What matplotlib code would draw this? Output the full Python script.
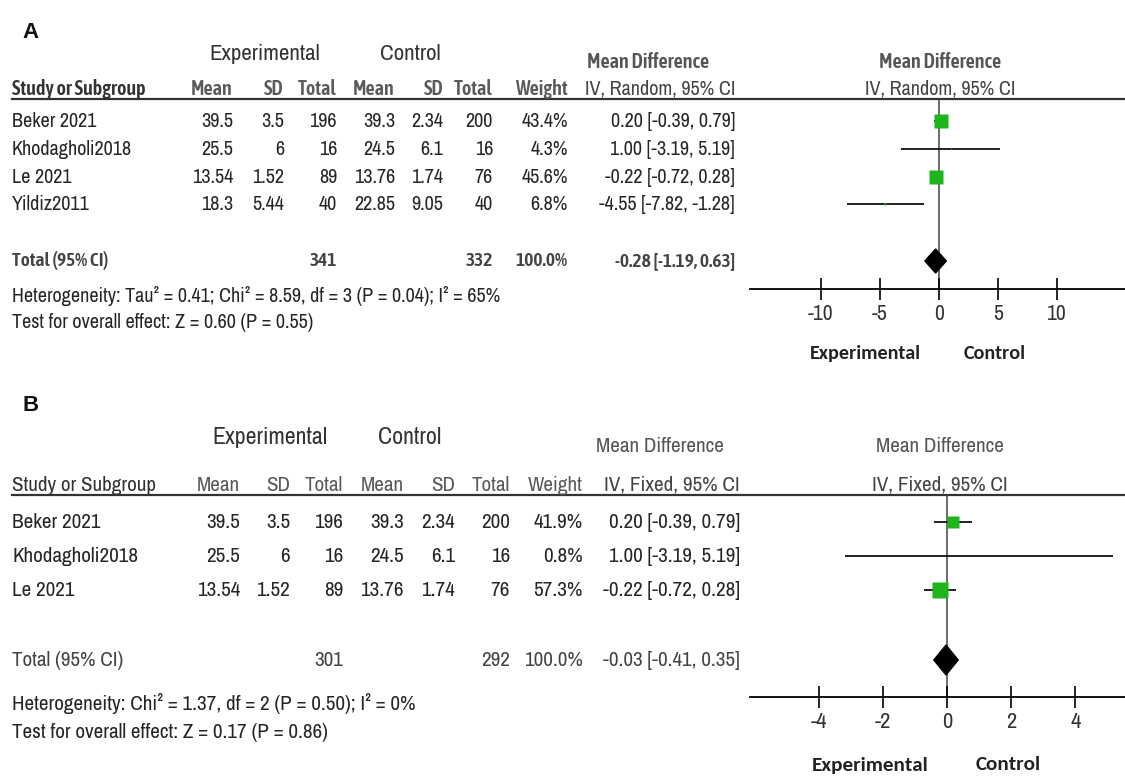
import matplotlib.pyplot as plt

# ---- data -------------------------------------------------------------
studies_a = ['Beker 2021', 'Khodagholi2018', 'Le 2021', 'Yildiz2011']
mean_e_a = [39.5, 25.5, 13.54, 18.3]
sd_e_a = [3.5, 6, 1.52, 5.44]
n_e_a = [196, 16, 89, 40]
mean_c_a = [39.3, 24.5, 13.76, 22.85]
sd_c_a = [2.34, 6.1, 1.74, 9.05]
n_c_a = [200, 16, 76, 40]
weight_a = [43.4, 4.3, 45.6, 6.8]
md_a = [0.20, 1.00, -0.22, -4.55]
lo_a = [-0.39, -3.19, -0.72, -7.82]
hi_a = [0.79, 5.19, 0.28, -1.28]
total_a = (341, 332, -0.28, -1.19, 0.63)
het_a = 'Heterogeneity: Tau² = 0.41; Chi² = 8.59, df = 3 (P = 0.04); I² = 65%'
test_a = 'Test for overall effect: Z = 0.60 (P = 0.55)'
ticks_a = [-10, -5, 0, 5, 10]

studies_b = ['Beker 2021', 'Khodagholi2018', 'Le 2021']
mean_e_b = [39.5, 25.5, 13.54]
sd_e_b = [3.5, 6, 1.52]
n_e_b = [196, 16, 89]
mean_c_b = [39.3, 24.5, 13.76]
sd_c_b = [2.34, 6.1, 1.74]
n_c_b = [200, 16, 76]
weight_b = [41.9, 0.8, 57.3]
md_b = [0.20, 1.00, -0.22]
lo_b = [-0.39, -3.19, -0.72]
hi_b = [0.79, 5.19, 0.28]
total_b = (301, 292, -0.03, -0.41, 0.35)
het_b = 'Heterogeneity: Chi² = 1.37, df = 2 (P = 0.50); I² = 0%'
test_b = 'Test for overall effect: Z = 0.17 (P = 0.86)'
ticks_b = [-4, -2, 0, 2, 4]

# ---- fonts -------------------------------------------------------------
NARROW = ['Archivo Narrow', 'DejaVu Sans']
BOLDN = ['Asap Condensed', 'DejaVu Sans']
plt.rcParams['font.family'] = NARROW
plt.rcParams['axes.unicode_minus'] = False

W, H = 1125, 779
fig = plt.figure(figsize=(W / 100, H / 100), dpi=100)
fig.patch.set_facecolor('white')
bg = fig.add_axes([0, 0, 1, 1])
bg.set_xlim(0, W)
bg.set_ylim(H, 0)
bg.axis('off')

GREEN = '#1eb41e'
TXT = '#262626'


def fmt_ci(m, l, h):
    return f'{m:.2f} [{l:.2f}, {h:.2f}]'


def panel(p):
    fs = p['fs']
    y_top, y_axis = p['line_y'], p['axis_y']
    cols = p['cols']
    hk = dict(family=BOLDN, fontweight='semibold', fontsize=fs) if p['hb'] else dict(family=NARROW, fontsize=fs)
    tk = dict(family=BOLDN, fontweight='semibold', fontsize=fs - 0.5) if p['tb'] else dict(family=NARROW, fontsize=fs)
    bg.text(22, p['letter_y'], p['letter'], fontsize=16, fontweight='bold',
            family='Liberation Sans', va='center', color='#111')
    bg.text(p['exp_x'], p['group_y'], 'Experimental', fontsize=fs + 2, ha='center', va='center', color='#333')
    bg.text(p['ctl_x'], p['group_y'], 'Control', fontsize=fs + 2, ha='center', va='center', color='#333')
    bg.text(p['md_x'], p['mdh_y'], 'Mean Difference', ha='center', va='center', color='#555', **hk)
    bg.text(p['zero_x'], p['mdh_y'], 'Mean Difference', ha='center', va='center', color='#555', **hk)
    bg.text(p['zero_x'], p['head_y'], p['model'], fontsize=fs, ha='center', va='center', color='#444')

    hy = p['head_y']
    bg.text(12, hy, 'Study or Subgroup', va='center', color='#333', **hk)
    for x, lab in zip(cols[:7], ['Mean', 'SD', 'Total', 'Mean', 'SD', 'Total', 'Weight']):
        bg.text(x, hy, lab, ha='right', va='center', color='#5a5a5a', **hk)
    bg.text(cols[7], hy, p['model'], fontsize=fs, ha='right', va='center', color='#444')
    bg.plot([12, W], [y_top, y_top], color='#333', lw=1.6)

    for i, name in enumerate(p['studies']):
        y = p['rows'][i]
        vals = [f"{p['me'][i]:g}", f"{p['se'][i]:g}", str(p['ne'][i]),
                f"{p['mc'][i]:g}", f"{p['sc'][i]:g}", str(p['nc'][i]),
                f"{p['w'][i]:.1f}%", fmt_ci(p['md'][i], p['lo'][i], p['hi'][i])]
        bg.text(12, y, name, fontsize=fs, va='center', color=TXT)
        for x, v in zip(cols, vals):
            bg.text(x, y, v, fontsize=fs, ha='right', va='center', color=TXT)

    ne, nc, tm, tl, th = p['total']
    ty = p['total_y']
    bg.text(12, ty, 'Total (95% CI)', va='center', color='#444', **tk)
    bg.text(cols[2], ty, str(ne), ha='right', va='center', color='#444', **tk)
    bg.text(cols[5], ty, str(nc), ha='right', va='center', color='#444', **tk)
    bg.text(cols[6], ty, '100.0%', ha='right', va='center', color='#444', **tk)
    bg.text(cols[7], ty, fmt_ci(tm, tl, th), ha='right', va='center', color='#444', **tk)
    bg.text(12, p['het_y'], p['het'], fontsize=fs, va='center', color=TXT)
    bg.text(12, p['test_y'], p['test'], fontsize=fs, va='center', color=TXT)

    # forest plot axes: x in data units, y in page pixels
    x0 = 750
    ax = fig.add_axes([x0 / W, 1 - y_axis / H, (W - x0) / W, (y_axis - y_top) / H])
    ax.set_xlim(*p['xlim'])
    ax.set_ylim(y_axis, y_top)
    ax.patch.set_alpha(0)
    for s in ['top', 'left', 'right']:
        ax.spines[s].set_visible(False)
    ax.spines['bottom'].set_linewidth(1.3)
    ax.set_yticks([])
    ax.set_xticks(p['ticks'])
    ax.tick_params(axis='x', direction='inout', length=16, width=1.2,
                   labelsize=fs + 1, pad=3, labelcolor='#333')
    ax.axvline(0, color='#444', lw=1.1, zorder=1)
    for i in range(len(p['studies'])):
        y = p['rows'][i]
        ax.hlines(y, p['lo'][i], p['hi'][i], color='#111', lw=1.3, zorder=2)
        ax.plot(p['md'][i], y, marker='s', color=GREEN, markersize=p['sq'] * p['w'][i] * 0.72,
                mec='none', zorder=3)
    d = p['dh']
    ax.fill([tl, tm, th, tm], [ty, ty - d, ty, ty + d], color='black', zorder=4)

    bg.text(p['lab_exp_x'], p['lab_y'], 'Experimental', fontsize=fs, ha='center', va='center',
            fontweight='bold', family='Carlito', color='#222')
    bg.text(p['lab_ctl_x'], p['lab_y'], 'Control', fontsize=fs, ha='center', va='center',
            fontweight='bold', family='Carlito', color='#222')


panel(dict(letter='A', letter_y=32, fs=14.5, hb=True, tb=True,
           exp_x=265, ctl_x=410, group_y=54, mdh_y=62, md_x=648, zero_x=940,
           head_y=89, line_y=99, axis_y=289,
           cols=[233, 284, 337, 395, 443, 493, 568, 735],
           rows=[121, 149, 177, 204], total_y=261, het_y=296, test_y=322,
           studies=studies_a, me=mean_e_a, se=sd_e_a, ne=n_e_a, mc=mean_c_a, sc=sd_c_a, nc=n_c_a,
           w=weight_a, md=md_a, lo=lo_a, hi=hi_a, total=total_a, het=het_a, test=test_a,
           model='IV, Random, 95% CI', xlim=(-16.0, 15.76), ticks=ticks_a, sq=0.32, dh=12,
           lab_exp_x=865, lab_ctl_x=995, lab_y=353))

panel(dict(letter='B', letter_y=405, fs=15.2, hb=False, tb=False,
           exp_x=270, ctl_x=410, group_y=437, mdh_y=446, md_x=660, zero_x=940,
           head_y=485, line_y=495, axis_y=697,
           cols=[240, 290, 343, 404, 455, 510, 583, 740],
           rows=[522, 556, 590], total_y=660, het_y=704, test_y=733,
           studies=studies_b, me=mean_e_b, se=sd_e_b, ne=n_e_b, mc=mean_c_b, sc=sd_c_b, nc=n_c_b,
           w=weight_b, md=md_b, lo=lo_b, hi=hi_b, total=total_b, het=het_b, test=test_b,
           model='IV, Fixed, 95% CI', xlim=(-6.14, 5.55), ticks=ticks_b, sq=0.28, dh=15,
           lab_exp_x=870, lab_ctl_x=1008, lab_y=765))

fig.savefig('out.png', dpi=100, facecolor='white')
